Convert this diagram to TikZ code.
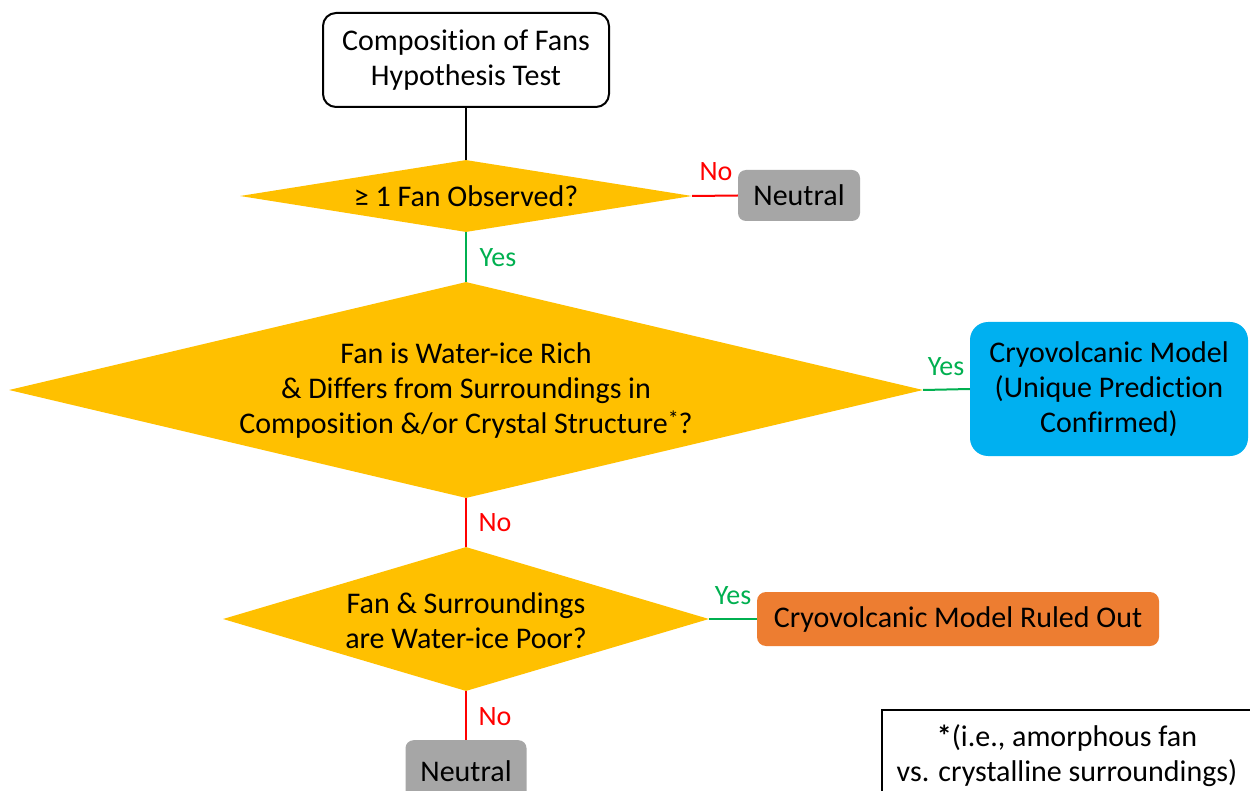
\documentclass[tikz,border=0pt]{standalone}
\usepackage{fontspec}
\setmainfont[Ligatures=NoCommon]{Carlito}
\usetikzlibrary{shapes.geometric}
\definecolor{gold}{HTML}{FFC000}
\definecolor{skyb}{HTML}{00B0F0}
\definecolor{orng}{HTML}{ED7D31}
\definecolor{greybox}{HTML}{A6A6A6}
\definecolor{yesgreen}{HTML}{00B050}
\definecolor{nored}{HTML}{FF0000}
\begin{document}
\begin{tikzpicture}[x=1pt,y=-1pt,
  every node/.style={font=\fontsize{30}{35}\selectfont, align=center, inner sep=0pt},
  dmd/.style={diamond, fill=gold, draw=none},
  startbox/.style={draw=black, line width=2pt, rounded corners=13pt, fill=white},
  greybx/.style={fill=greybox, rounded corners=8pt},
  yeslab/.style={text=yesgreen, font=\fontsize{28}{32}\selectfont},
  nolab/.style={text=nored, font=\fontsize{28}{32}\selectfont},
  yesline/.style={draw=yesgreen, line width=2pt},
  noline/.style={draw=nored, line width=2pt},
  plainline/.style={draw=black, line width=2pt}]
\useasboundingbox (0,0) rectangle (1250,791);
\clip (0,0) rectangle (1250,791);
\fill[white] (0,0) rectangle (1250,791);

\node[startbox, minimum width=286pt, minimum height=94pt] (start) at (466,60) {Composition of Fans\\Hypothesis Test};

\node[dmd, minimum width=452pt, minimum height=72pt] (d1) at (466,196) {};
\node (d1t) at (466,196) {≥ 1 Fan Observed?};

\node[greybx, minimum width=122pt, minimum height=51pt] (n1) at (799,195.5) {Neutral};

\node[dmd, minimum width=914pt, minimum height=216pt] (d2) at (466,390) {};
\node (d2t) at (466,391) {Fan is Water-ice Rich\\\& Differs from Surroundings in\\Composition \&/or Crystal Structure{\fontsize{22}{22}\selectfont\raisebox{7pt}{*}}?};

\node[fill=skyb, rounded corners=18pt, minimum width=278pt, minimum height=134pt] (cm) at (1109,389) {Cryovolcanic Model\\(Unique Prediction\\Confirmed)};

\node[dmd, minimum width=486pt, minimum height=144pt] (d3) at (466,619) {};
\node (d3t) at (466,621) {Fan \& Surroundings\\are Water-ice Poor?};

\node[fill=orng, rounded corners=9pt, minimum width=402pt, minimum height=54pt] (ro) at (958,619) {Cryovolcanic Model Ruled Out};

\node[greybx, anchor=north, minimum width=121pt, minimum height=62pt] (n2) at (466,740) {Neutral};

\node[draw=black, line width=2pt, anchor=north west, minimum width=370pt, minimum height=92pt] (fn) at (881,709) {\textbf{*}(i.e., amorphous fan\\vs. crystalline surroundings)};

\draw[plainline] (start.south) -- (d1.north);
\draw[noline] (d1.east) -- (n1.west);
\draw[yesline] (d1.south) -- (d2.north);
\draw[yesline] (d2.east) -- (cm.west);
\draw[noline] (d2.south) -- (d3.north);
\draw[yesline] (d3.east) -- (ro.west);
\draw[noline] (d3.south) -- (n2.north);

\node[nolab] (l1) at (716,172) {No};
\node[yeslab] (l2) at (498,258) {Yes};
\node[yeslab] (l3) at (946,367) {Yes};
\node[nolab] (l4) at (495,523) {No};
\node[yeslab] (l5) at (733,596) {Yes};
\node[nolab] (l6) at (495,717) {No};
\end{tikzpicture}
\end{document}
